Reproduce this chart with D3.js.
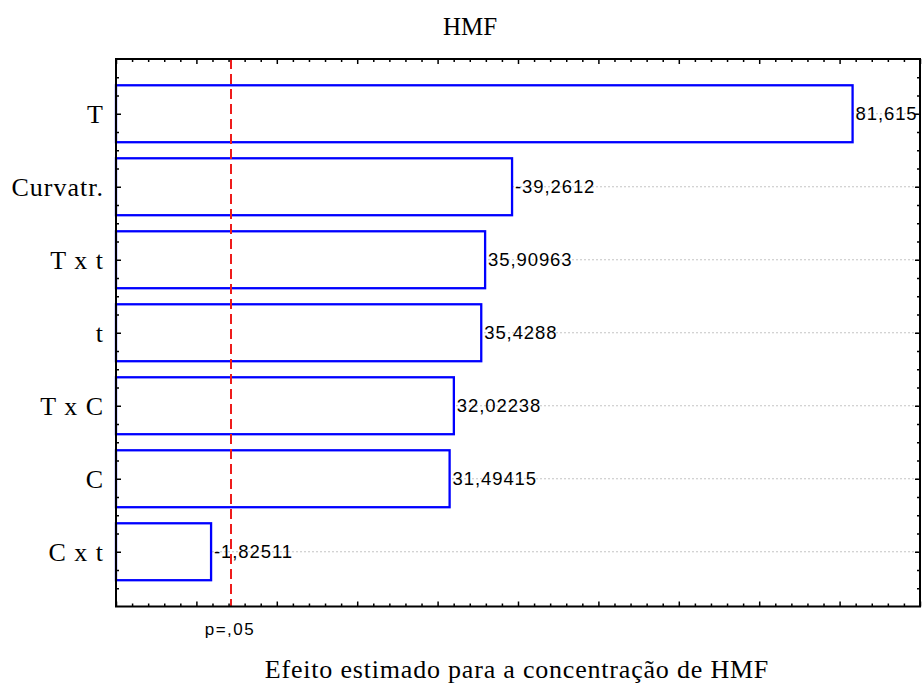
<!DOCTYPE html>
<html>
<head>
<meta charset="utf-8">
<script src="https://cdn.jsdelivr.net/npm/d3@7"></script>
<style>
  body { margin: 0; background: #fff; }
  .serif { font-family: "Liberation Serif", "Times New Roman", serif; fill: #000; }
  .sans { font-family: "Liberation Sans", Arial, sans-serif; fill: #000; }
</style>
</head>
<body>
<svg id="chart" width="924" height="684"></svg>
<script>
// effects (standardized), top to bottom
var categories = ["T", "Curvatr.", "T x t", "t", "T x C", "C", "C x t"];
var effects = [81.615, -39.2612, 35.90963, 35.4288, 32.02238, 31.49415, -1.82511];
var p_critical = 4.303;
var p_label = "p=,05";
var x_domain = [-10, 90];
var x_major = [-10, 0, 10, 20, 30, 40, 50, 60, 70, 80, 90];
var title_text = "HMF";
var x_title_text = "Efeito estimado para a concentração de HMF";

var svg = d3.select("#chart");
var plot_left = 116, plot_right = 920, plot_top = 59, plot_bottom = 606.5;

var xScale = d3.scaleLinear().domain(x_domain).range([plot_left, plot_right]);
var yScale = d3.scaleLinear().domain([0.25, categories.length + 0.75]).range([plot_top, plot_bottom]);

var x_minor = d3.range(x_domain[0], x_domain[1] + 0.01, 2).filter(function(d) { return d % 10 !== 0; });
var y_major = categories.map(function(d, i) { return i + 1; });
var y_minor = d3.range(0.5, categories.length + 0.75, 0.25).filter(function(d) { return d % 1 !== 0; });

// gridlines
svg.append("g").selectAll("line")
    .data(y_major)
    .enter().append("line")
    .attr("x1", plot_left).attr("x2", plot_right)
    .attr("y1", function(d) { return yScale(d); })
    .attr("y2", function(d) { return yScale(d); })
    .attr("stroke", "#c4c4c4")
    .attr("stroke-width", 1)
    .attr("stroke-dasharray", "2,2");

// bars
var half = 0.39;
svg.append("g").selectAll("rect")
    .data(effects)
    .enter().append("rect")
    .attr("x", xScale(x_domain[0]))
    .attr("y", function(d, i) { return yScale(i + 1 - half); })
    .attr("width", function(d) { return xScale(Math.abs(d)) - xScale(x_domain[0]); })
    .attr("height", yScale(1 + half) - yScale(1 - half))
    .attr("fill", "#fff")
    .attr("stroke", "#0000ff")
    .attr("stroke-width", 2.3);

// value labels
svg.append("g").selectAll("text")
    .data(effects)
    .enter().append("text")
    .attr("class", "sans")
    .attr("x", function(d) { return xScale(Math.abs(d)) + 3; })
    .attr("y", function(d, i) { return yScale(i + 1) + 6; })
    .attr("font-size", "18.5px")
    .attr("letter-spacing", "0.9px")
    .text(function(d) { return String(d).replace(".", ","); });

// p=.05 line
svg.append("line")
    .attr("x1", xScale(p_critical)).attr("x2", xScale(p_critical))
    .attr("y1", plot_top).attr("y2", plot_bottom)
    .attr("stroke", "#ee1c1c")
    .attr("stroke-width", 2)
    .attr("stroke-dasharray", "10,5");

// ticks, all pointing inward
function tickAxes(axisFn, scale, values, size, transform) {
    svg.append("g")
        .attr("transform", transform)
        .call(axisFn(scale).tickValues(values).tickSize(size).tickSizeOuter(0).tickFormat(""))
        .call(function(g) { g.select(".domain").remove(); })
        .selectAll("line").attr("stroke", "#000").attr("stroke-width", 1.5);
}
tickAxes(d3.axisBottom, xScale, x_major, -5, "translate(0," + plot_bottom + ")");
tickAxes(d3.axisBottom, xScale, x_minor, -3, "translate(0," + plot_bottom + ")");
tickAxes(d3.axisTop, xScale, x_major, -5, "translate(0," + plot_top + ")");
tickAxes(d3.axisTop, xScale, x_minor, -3, "translate(0," + plot_top + ")");
tickAxes(d3.axisLeft, yScale, y_major, -5, "translate(" + plot_left + ",0)");
tickAxes(d3.axisLeft, yScale, y_minor, -3, "translate(" + plot_left + ",0)");
tickAxes(d3.axisRight, yScale, y_major, -5, "translate(" + plot_right + ",0)");
tickAxes(d3.axisRight, yScale, y_minor, -3, "translate(" + plot_right + ",0)");

// frame
svg.append("rect")
    .attr("x", plot_left).attr("y", plot_top)
    .attr("width", plot_right - plot_left).attr("height", plot_bottom - plot_top)
    .attr("fill", "none")
    .attr("stroke", "#000")
    .attr("stroke-width", 2);

// category labels
svg.append("g").selectAll("text")
    .data(categories)
    .enter().append("text")
    .attr("class", "serif")
    .attr("x", 104)
    .attr("y", function(d, i) { return yScale(i + 1) + 9; })
    .attr("text-anchor", "end")
    .attr("font-size", "26px")
    .attr("letter-spacing", "1px")
    .text(function(d) { return d; });

// p label
svg.append("text")
    .attr("class", "sans")
    .attr("x", xScale(p_critical) - 1)
    .attr("y", 635)
    .attr("text-anchor", "middle")
    .attr("font-size", "17px")
    .attr("letter-spacing", "1.5px")
    .text(p_label);

// titles
svg.append("text")
    .attr("class", "serif")
    .attr("x", 470)
    .attr("y", 35)
    .attr("text-anchor", "middle")
    .attr("font-size", "25px")
    .text(title_text);

svg.append("text")
    .attr("class", "serif")
    .attr("x", 517)
    .attr("y", 678)
    .attr("text-anchor", "middle")
    .attr("font-size", "26px")
    .attr("letter-spacing", "0.8px")
    .text(x_title_text);
</script>
</body>
</html>
